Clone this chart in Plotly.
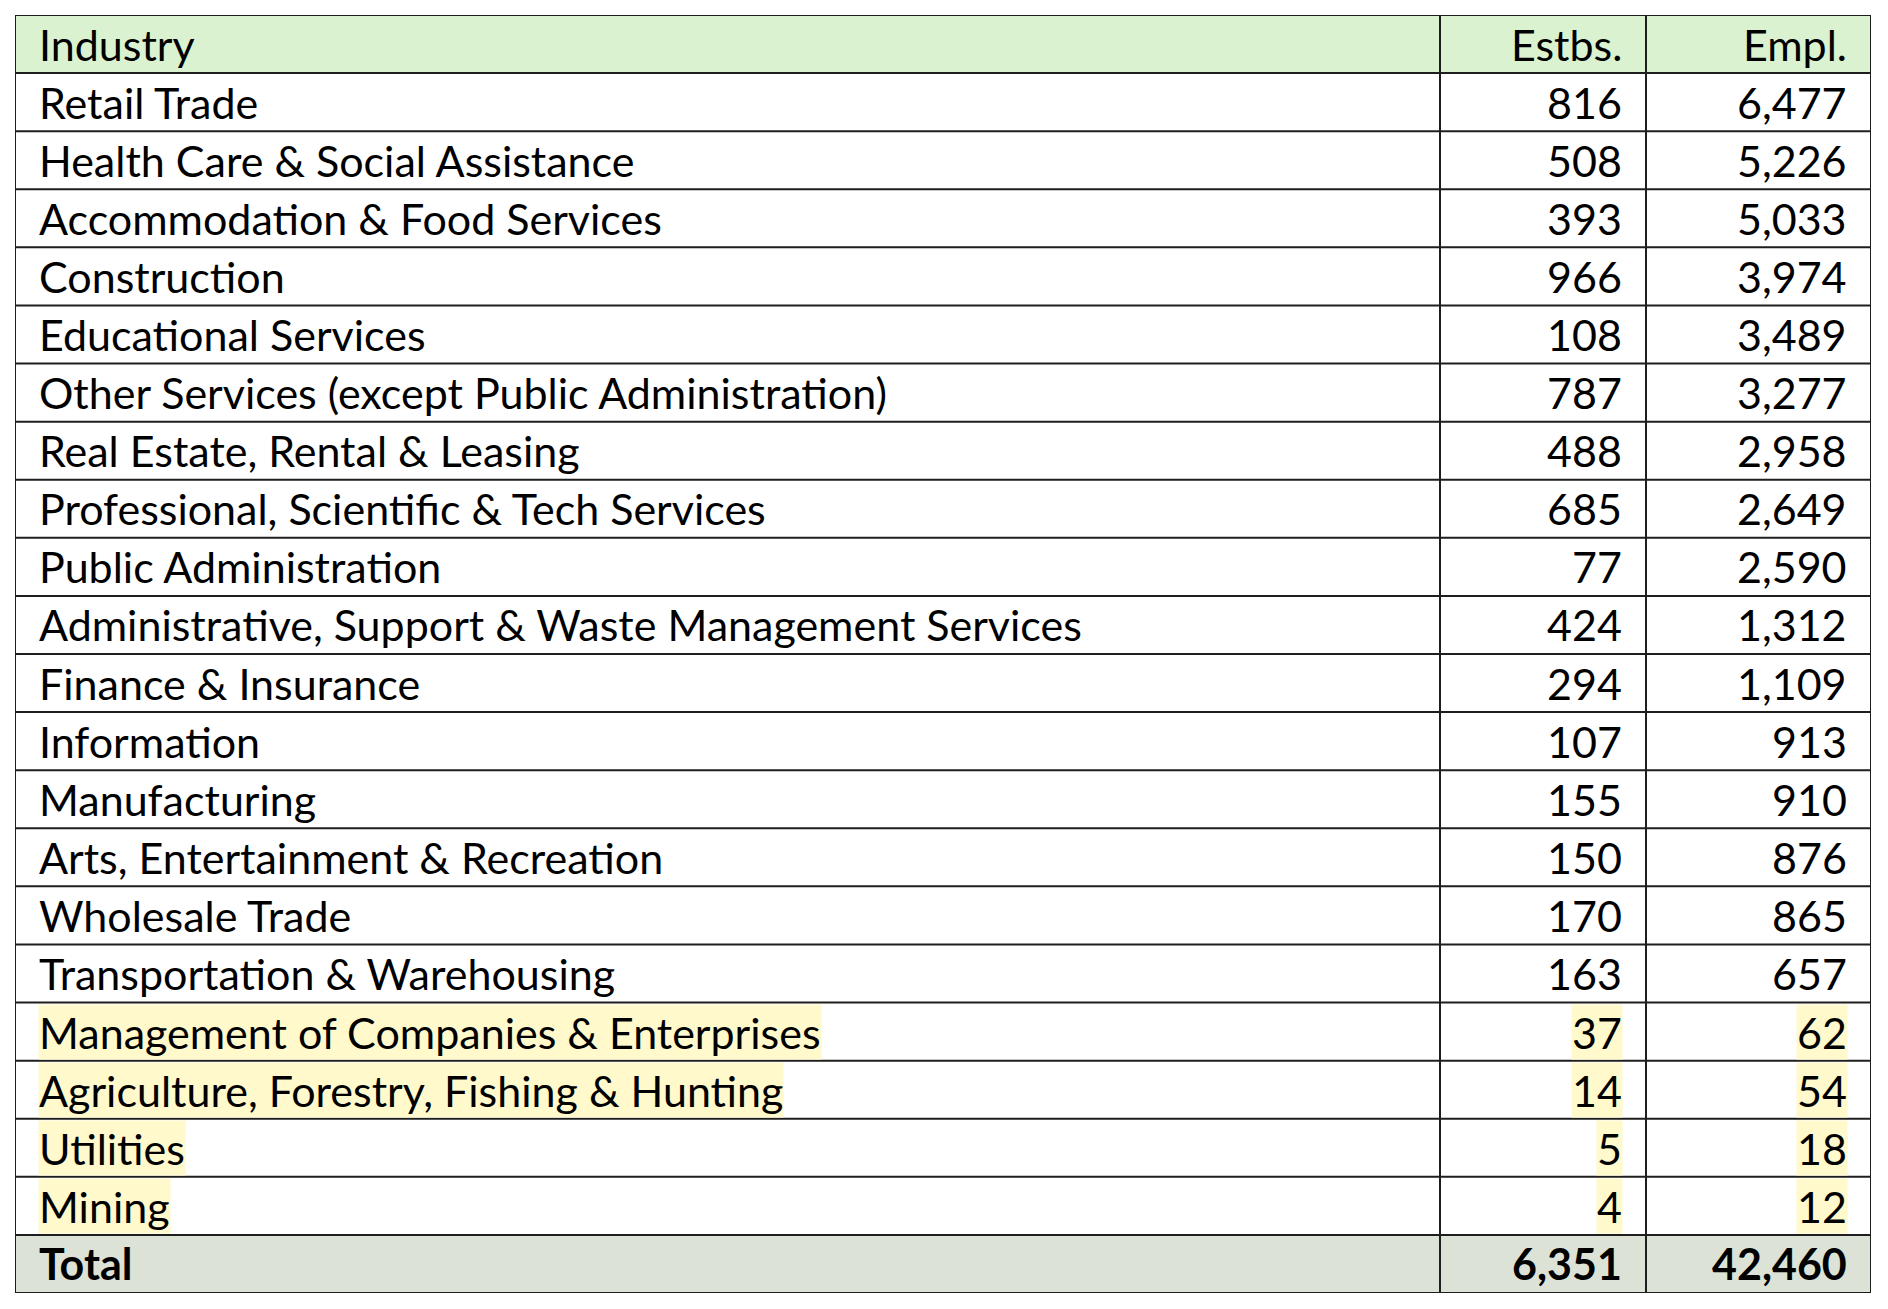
import plotly.graph_objects as go

# ---------------- data ----------------
industries = [
    "Retail Trade", "Health Care & Social Assistance", "Accommodation & Food Services",
    "Construction", "Educational Services", "Other Services (except Public Administration)",
    "Real Estate, Rental & Leasing", "Professional, Scientific & Tech Services",
    "Public Administration", "Administrative, Support & Waste Management Services",
    "Finance & Insurance", "Information", "Manufacturing", "Arts, Entertainment & Recreation",
    "Wholesale Trade", "Transportation & Warehousing", "Management of Companies & Enterprises",
    "Agriculture, Forestry, Fishing & Hunting", "Utilities", "Mining",
]
estbs = [816, 508, 393, 966, 108, 787, 488, 685, 77, 424, 294, 107, 155, 150, 170, 163, 37, 14, 5, 4]
empl = [6477, 5226, 5033, 3974, 3489, 3277, 2958, 2649, 2590, 1312, 1109, 913, 910, 876, 865, 657, 62, 54, 18, 12]
total_label = "Total"
total_estbs = 6351
total_empl = 42460
headers = ["Industry", "Estbs.", "Empl."]
highlighted = ["Management of Companies & Enterprises", "Agriculture, Forestry, Fishing & Hunting",
               "Utilities", "Mining"]

# ---------------- styling / layout ----------------
W, H = 1880, 1301                 # the page body adds an 8px margin
COL_W = [1425, 206, 225]          # column widths (px)
N_ROWS = len(industries) + 2      # header + data + total
FONT = "Lato"
FSIZE = 43
HEADER_FILL = "#DAF2D0"
TOTAL_FILL = "#DCE3D6"
HILITE = "#FFF9CC"
LINE = "#1E1E1E"
LW = 2
PAD_L = 23
PAD_R = 23

col_edges = [0]
for w in COL_W:
    col_edges.append(col_edges[-1] + w)
table_w = col_edges[-1]

fig = go.Figure(go.Scatter(x=[0, table_w], y=[0, N_ROWS], mode="markers",
                           marker=dict(opacity=0), hoverinfo="skip", showlegend=False))

shapes = []
# row fills
for r, fill in [(0, HEADER_FILL), (N_ROWS - 1, TOTAL_FILL)]:
    shapes.append(dict(type="rect", xref="x", yref="y", x0=0, x1=table_w, y0=r, y1=r + 1,
                       fillcolor=fill, line=dict(width=0), layer="below"))
# grid lines
for r in range(N_ROWS + 1):
    shapes.append(dict(type="line", xref="x", yref="y", x0=0, x1=table_w, y0=r, y1=r,
                       line=dict(color=LINE, width=LW)))
for xe in col_edges:
    shapes.append(dict(type="line", xref="x", yref="y", x0=xe, x1=xe, y0=0, y1=N_ROWS,
                       line=dict(color=LINE, width=LW)))

annotations = []


def cell_text(text, row, col, hilite=False, bold=False):
    if col == 0:
        xp, anc = col_edges[0] + PAD_L, "left"
    else:
        xp, anc = col_edges[col + 1] - PAD_R, "right"
    txt = f"<b>{text}</b>" if bold else text
    a = dict(text=txt, x=xp, y=row + 0.5, xref="x", yref="y", xanchor=anc, yanchor="middle",
             showarrow=False, borderpad=0, yshift=0,
             font=dict(family=FONT, size=FSIZE, color="black"))
    if hilite:
        a.update(bgcolor=HILITE, height=54, valign="middle")
    annotations.append(a)


for c, h in enumerate(headers):
    cell_text(h, 0, c)
for i, (name, e, m) in enumerate(zip(industries, estbs, empl)):
    hl = name in highlighted
    cell_text(name, i + 1, 0, hl)
    cell_text(f"{e:,}", i + 1, 1, hl)
    cell_text(f"{m:,}", i + 1, 2, hl)
cell_text(total_label, N_ROWS - 1, 0, bold=True)
cell_text(f"{total_estbs:,}", N_ROWS - 1, 1, bold=True)
cell_text(f"{total_empl:,}", N_ROWS - 1, 2, bold=True)

fig.update_layout(
    width=W, height=H,
    margin=dict(l=7, r=W - 7 - table_w, t=7, b=H - 7 - 1278),
    paper_bgcolor="white", plot_bgcolor="white",
    xaxis=dict(range=[0, table_w], visible=False, fixedrange=True),
    yaxis=dict(range=[N_ROWS, 0], visible=False, fixedrange=True),
    shapes=shapes, annotations=annotations, showlegend=False,
)
fig.write_html("out.html")
